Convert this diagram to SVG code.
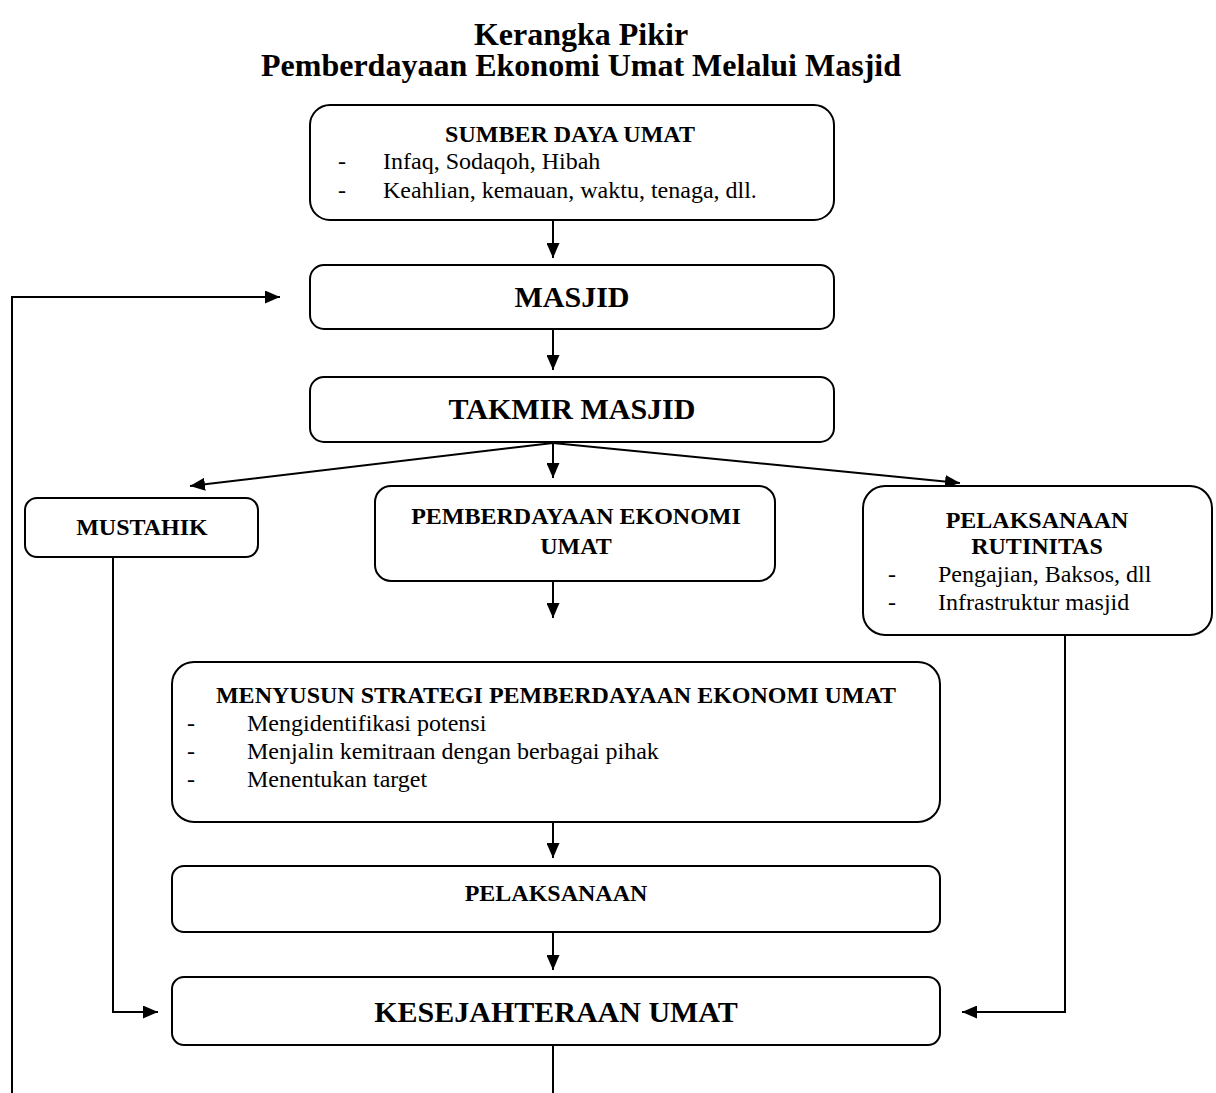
<svg xmlns="http://www.w3.org/2000/svg" width="1216" height="1093" viewBox="0 0 1216 1093">
<defs>
<marker id="ah" markerWidth="15" markerHeight="13" refX="15" refY="6.5" orient="auto" markerUnits="userSpaceOnUse">
<path d="M0,0 L15,6.5 L0,13 Z" fill="#000"/>
</marker>
<style>
.box{fill:#fff;stroke:#000;stroke-width:2}
.t{font-family:"Liberation Serif","Times New Roman",serif;fill:#000;font-size:24px}
.b{font-weight:bold}
.c{text-anchor:middle}
.big{font-size:30px}
.ln{fill:none;stroke:#000;stroke-width:2}
</style>
</defs>
<rect width="1216" height="1093" fill="#fff"/>
<text class="t b c" x="581" y="45" font-size="32" style="font-size:32px">Kerangka Pikir</text>
<text class="t b c" x="581" y="76" style="font-size:32px">Pemberdayaan Ekonomi Umat Melalui Masjid</text>

<g id="connectors">
<line class="ln" x1="553" y1="220" x2="553" y2="258" marker-end="url(#ah)"/>
<line class="ln" x1="553" y1="330" x2="553" y2="370" marker-end="url(#ah)"/>
<line class="ln" x1="553" y1="443" x2="553" y2="478" marker-end="url(#ah)"/>
<line class="ln" x1="553" y1="443" x2="190" y2="486" marker-end="url(#ah)"/>
<line class="ln" x1="553" y1="443" x2="960" y2="483" marker-end="url(#ah)"/>
<line class="ln" x1="553" y1="582" x2="553" y2="618" marker-end="url(#ah)"/>
<line class="ln" x1="553" y1="823" x2="553" y2="858" marker-end="url(#ah)"/>
<line class="ln" x1="553" y1="933" x2="553" y2="970" marker-end="url(#ah)"/>
<polyline class="ln" points="113,557 113,1012 158,1012" marker-end="url(#ah)"/>
<polyline class="ln" points="1065,636 1065,1012 962,1012" marker-end="url(#ah)"/>
<line class="ln" x1="553" y1="1045" x2="553" y2="1093"/>
<polyline class="ln" points="12,1093 12,297 280,297" marker-end="url(#ah)"/>
</g>

<g id="sumber">
<rect class="box" x="310" y="105" width="524" height="115" rx="20"/>
<text class="t b c" x="570" y="142">SUMBER DAYA UMAT</text>
<text class="t" x="338" y="169">-</text>
<text class="t" x="383" y="169">Infaq, Sodaqoh, Hibah</text>
<text class="t" x="338" y="198">-</text>
<text class="t" x="383" y="198">Keahlian, kemauan, waktu, tenaga, dll.</text>
</g>

<g id="masjid">
<rect class="box" x="310" y="265" width="524" height="64" rx="14"/>
<text class="t b c big" x="572" y="307">MASJID</text>
</g>

<g id="takmir">
<rect class="box" x="310" y="377" width="524" height="65" rx="14"/>
<text class="t b c big" x="572" y="419">TAKMIR MASJID</text>
</g>

<g id="mustahik">
<rect class="box" x="25" y="498" width="233" height="59" rx="12"/>
<text class="t b c" x="142" y="535">MUSTAHIK</text>
</g>

<g id="pemberdayaan">
<rect class="box" x="375" y="486" width="400" height="95" rx="16"/>
<text class="t b c" x="576" y="524">PEMBERDAYAAN EKONOMI</text>
<text class="t b c" x="576" y="554">UMAT</text>
</g>

<g id="rutinitas">
<rect class="box" x="863" y="486" width="349" height="149" rx="22"/>
<text class="t b c" x="1037" y="528">PELAKSANAAN</text>
<text class="t b c" x="1037" y="554">RUTINITAS</text>
<text class="t" x="888" y="582">-</text>
<text class="t" x="938" y="582">Pengajian, Baksos, dll</text>
<text class="t" x="888" y="610">-</text>
<text class="t" x="938" y="610">Infrastruktur masjid</text>
</g>

<g id="strategi">
<rect class="box" x="172" y="662" width="768" height="160" rx="22"/>
<text class="t b c" x="556" y="703">MENYUSUN STRATEGI PEMBERDAYAAN EKONOMI UMAT</text>
<text class="t" x="187" y="731">-</text>
<text class="t" x="247" y="731">Mengidentifikasi potensi</text>
<text class="t" x="187" y="759">-</text>
<text class="t" x="247" y="759">Menjalin kemitraan dengan berbagai pihak</text>
<text class="t" x="187" y="787">-</text>
<text class="t" x="247" y="787">Menentukan target</text>
</g>

<g id="pelaksanaan">
<rect class="box" x="172" y="866" width="768" height="66" rx="12"/>
<text class="t b c" x="556" y="901">PELAKSANAAN</text>
</g>

<g id="kesejahteraan">
<rect class="box" x="172" y="977" width="768" height="68" rx="12"/>
<text class="t b c big" x="556" y="1022">KESEJAHTERAAN UMAT</text>
</g>
</svg>
